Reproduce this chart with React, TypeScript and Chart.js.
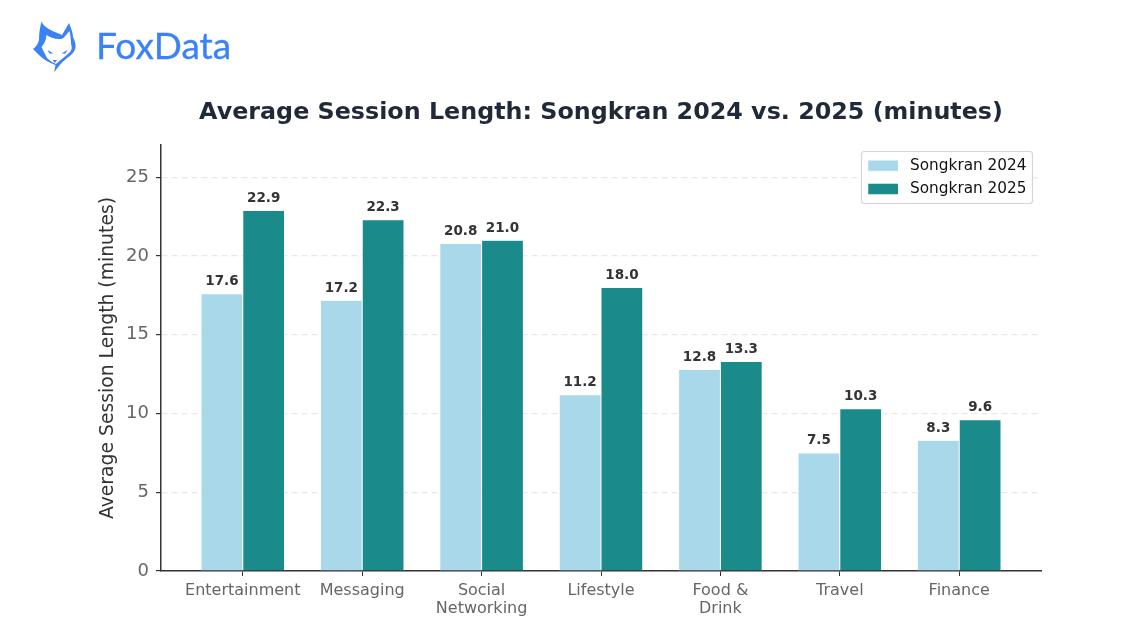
import React, { useEffect, useRef } from "react";
import { Chart, registerables } from "chart.js";

Chart.register(...registerables);

const categories: (string | string[])[] = ["Entertainment", "Messaging", ["Social", "Networking"], "Lifestyle", ["Food &", "Drink"], "Travel", "Finance"];
const songkran2024 = [17.6, 17.2, 20.8, 11.2, 12.8, 7.5, 8.3];
const songkran2025 = [22.9, 22.3, 21.0, 18.0, 13.3, 10.3, 9.6];
const seriesNames = ["Songkran 2024", "Songkran 2025"];
const titleText = "Average Session Length: Songkran 2024 vs. 2025 (minutes)";
const yTitle = "Average Session Length (minutes)";
const FONT = "'DejaVu Sans'";

const valueLabels = {
  id: "valueLabels",
  afterDatasetsDraw(chart: any) {
    const { ctx } = chart;
    ctx.save();
    ctx.font = `bold 13.5px ${FONT}`;
    ctx.fillStyle = "#333333";
    ctx.textAlign = "center";
    ctx.textBaseline = "alphabetic";
    chart.data.datasets.forEach((ds: any, i: number) => {
      chart.getDatasetMeta(i).data.forEach((bar: any, j: number) => {
        ctx.fillText(ds.data[j].y.toFixed(1), bar.x, bar.y - 8.5);
      });
    });
    ctx.restore();
  },
};

const legendBox = {
  id: "legendBox",
  afterLayout(chart: any) {
    const lg = chart.legend;
    lg.left = 860;
    lg.top = 150;
    lg.right = 1033;
    lg.bottom = 300;
    lg.width = 173;
    lg.height = 150;
    if (!lg.__patched) {
      lg.__patched = true;
      const orig = lg.draw;
      lg.draw = function (...args: any[]) {
        const c = chart.ctx;
        c.save();
        c.beginPath();
        c.roundRect(861.5, 151.5, 171, 52, 3);
        c.fillStyle = "#ffffff";
        c.fill();
        c.strokeStyle = "#d6d6d6";
        c.lineWidth = 1.2;
        c.stroke();
        c.restore();
        orig.apply(this, args);
        // swatches are 30px wide; the last px of the legend box keep the text gap
        c.save();
        c.fillStyle = "#ffffff";
        lg.legendHitBoxes.forEach((hb: any) => c.fillRect(hb.left + 30, hb.top - 2, 5, 18));
        c.restore();
      };
    }
  },
};

function FoxIcon() {
  return (
    <svg width="100" height="90" viewBox="0 0 100 90" style={{ position: "absolute", left: 0, top: 0 }}>
      <path
        fill="#3b82f6"
        d="M41.5 21.5 C44 27 50 30 55 32 L62 35 L69 23 C71 28 73 33 73 37 C75 41 76 45 75.5 48 C74 53 70 56 66 59 C62 62 58 67 54 72.5 C55 69 55 67 55.5 65 C50 63 44 60 40 56 L33 49 C36 47 38 44 39 40 C39 33 40 27 41.5 21.5 Z"
      />
      <path
        fill="#ffffff"
        d="M46.5 35 C51 38 56 39.5 61 39 L63.5 38 L69.5 31 C70.5 36 71 40 71 44 C72.5 48 71.5 51 69 53 C65 57 60 60 56 64 C53 63 50 61 47 58 C45 54 43 50 41.5 47 C44.5 44 46 40 46.5 35 Z"
      />
      <path fill="#3b82f6" d="M47.5 50 L53.5 53.5 L49.5 53.5 Z M67.5 50 L61.5 53.5 L65.5 53.5 Z M52.5 60 L57 60 L54.8 63 Z" />
    </svg>
  );
}

export default function App() {
  const ref = useRef<HTMLCanvasElement>(null);
  useEffect(() => {
    document.body.style.margin = "0";
    const chart = new Chart(ref.current!, {
      type: "bar",
      data: {
        datasets: [
          {
            label: seriesNames[0],
            data: songkran2024.map((y, x) => ({ x, y })),
            backgroundColor: "#a8d8ea",
            borderColor: "#ffffff",
            borderWidth: 0.5,
            categoryPercentage: 0.7,
            barPercentage: 1,
          },
          {
            label: seriesNames[1],
            data: songkran2025.map((y, x) => ({ x, y })),
            backgroundColor: "#1a8a8a",
            borderColor: "#ffffff",
            borderWidth: 0.5,
            categoryPercentage: 0.7,
            barPercentage: 1,
          },
        ],
      } as any,
      options: {
        responsive: false,
        animation: false,
        devicePixelRatio: 1,
        layout: { padding: { left: 0, right: 99, top: 0, bottom: 0 } },
        scales: {
          x: {
            type: "linear",
            offset: false,
            min: -0.685,
            max: 6.685,
            afterBuildTicks(scale: any) {
              scale.ticks = categories.map((_, i) => ({ value: i }));
            },
            afterFit(scale: any) {
              scale.height = 70;
            },
            border: { color: "#333333", width: 1.5 },
            grid: { offset: false, drawOnChartArea: false, tickColor: "#333333", tickLength: 5, tickWidth: 1 },
            ticks: {
              autoSkip: false,
              maxRotation: 0,
              minRotation: 0,
              padding: 5.5,
              color: "#666666",
              font: { family: FONT, size: 16, lineHeight: 1.13 },
              callback: (v: any) => categories[v as number],
            },
          },
          y: {
            min: 0,
            max: 27.05,
            afterFit(scale: any) {
              scale.width = 161;
            },
            border: { color: "#333333", width: 1.5, dash: [6, 4] },
            grid: { color: "#e8e8e8", lineWidth: 1.2, tickColor: "#333333", tickLength: 5, tickBorderDash: [] },
            title: {
              display: true,
              text: yTitle,
              color: "#333333",
              font: { family: FONT, size: 18.8 },
              padding: { top: 97, bottom: 0 },
            },
            ticks: {
              stepSize: 5,
              includeBounds: false,
              padding: 7,
              color: "#666666",
              font: { family: FONT, size: 18 },
            },
          },
        },
        plugins: {
          title: {
            display: true,
            text: titleText,
            fullSize: false,
            color: "#1f2937",
            font: { family: FONT, size: 23.8, weight: "bold" },
            padding: { top: 98.5, bottom: 18 },
          },
          legend: {
            position: "chartArea",
            align: "start",
            labels: {
              boxWidth: 34.4,
              boxHeight: 11,
              padding: 8,
              color: "#111111",
              font: { family: FONT, size: 15.3 },
            },
          },
          tooltip: { enabled: false },
        },
      } as any,
      plugins: [valueLabels, legendBox],
    });
    return () => chart.destroy();
  }, []);

  return (
    <div style={{ position: "relative", width: 1140, height: 641, background: "#fff", overflow: "hidden" }}>
      <canvas ref={ref} width={1140} height={641} style={{ display: "block" }} />
      <FoxIcon />
      <div style={{ position: "absolute", left: 96, top: 22, fontFamily: "Lato", fontSize: 37, lineHeight: "46px", color: "#3b82f6", WebkitTextStroke: "0.3px #3b82f6" }}>FoxData</div>
    </div>
  );
}
